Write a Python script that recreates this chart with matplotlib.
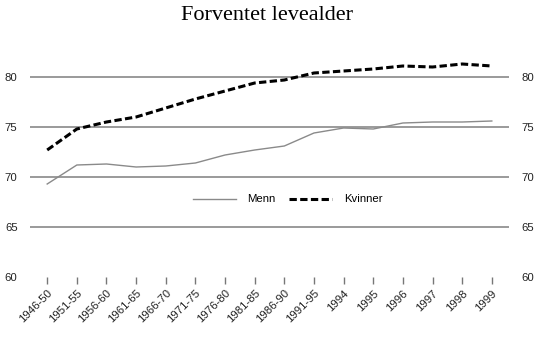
import matplotlib
matplotlib.use('Agg')
import matplotlib.pyplot as plt

# Data
periods = ['1946-50', '1951-55', '1956-60', '1961-65', '1966-70', '1971-75',
           '1976-80', '1981-85', '1986-90', '1991-95', '1994', '1995',
           '1996', '1997', '1998', '1999']
menn = [69.3, 71.2, 71.3, 71.0, 71.1, 71.4, 72.2, 72.7, 73.1, 74.4,
        74.9, 74.8, 75.4, 75.5, 75.5, 75.6]
kvinner = [72.7, 74.8, 75.5, 76.0, 76.9, 77.8, 78.6, 79.4, 79.7, 80.4,
           80.6, 80.8, 81.1, 81.0, 81.3, 81.1]
yticks = [60, 65, 70, 75, 80]

plt.rcParams['font.family'] = ['Liberation Sans', 'DejaVu Sans']

fig = plt.figure(figsize=(5.5, 3.39), dpi=100)
ax = fig.add_axes([30 / 550, 1 - 277 / 339, 479 / 550, 250 / 339])

x = list(range(len(periods)))

# gridlines (no line at 60)
for v in yticks[1:]:
    ax.axhline(v, color='#9a9a9a', lw=1.4, zorder=1)

ax.plot(x, menn, color='#8a8a8a', lw=1.0, label='Menn', zorder=3)
ax.plot(x, kvinner, color='black', lw=2.2, linestyle=(0, (2.4, 1.1)),
        label='Kvinner', zorder=3)

ax.set_xlim(-0.58, len(periods) - 1 + 0.58)
ax.set_ylim(60, 85)
ax.set_yticks(yticks)
ax.set_xticks(x)
ax.set_xticklabels(periods, rotation=45, ha='right', rotation_mode='anchor')

for s in ax.spines.values():
    s.set_visible(False)

ax.tick_params(axis='y', length=0, labelsize=8.2, pad=9, labelright=True,
               colors='#222222')
ax.tick_params(axis='x', length=5, width=1, color='#777777', labelsize=8.2,
               pad=3, labelcolor='#222222')

ax.legend(loc='center', bbox_to_anchor=(0.5376, 0.31), ncol=2,
          frameon=False, fontsize=8.2, handlelength=3.8, handletextpad=1.0,
          columnspacing=1.2)

fig.text(267 / 550, 1 - 15 / 339, 'Forventet levealder', ha='center',
         va='center', fontsize=16, family='Liberation Serif')

fig.savefig('out.png', dpi=100)
